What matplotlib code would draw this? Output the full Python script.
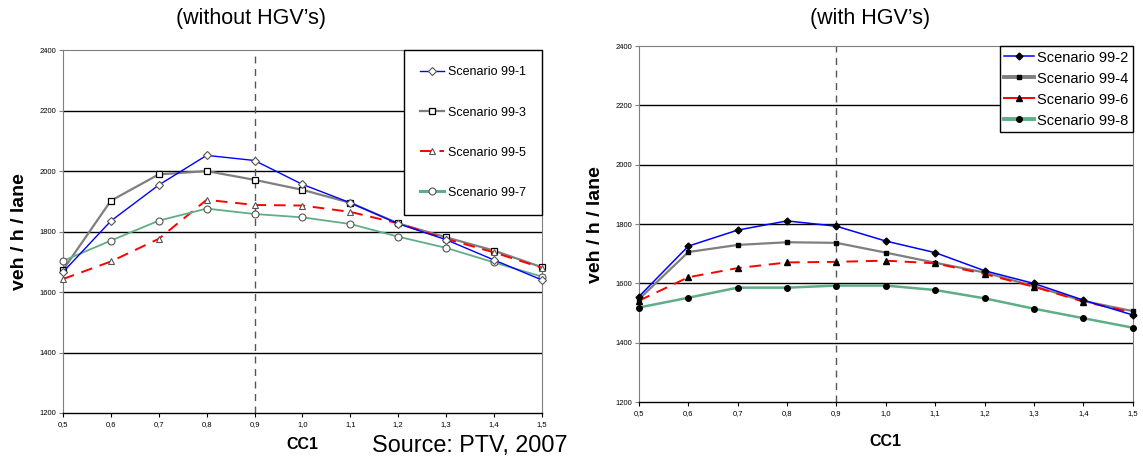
import numpy as np
import matplotlib
matplotlib.use("Agg")
from matplotlib import pyplot as plt

plt.rcParams['font.family'] = ['Liberation Sans', 'DejaVu Sans']

cc1 = [0.5, 0.6, 0.7, 0.8, 0.9, 1.0, 1.1, 1.2, 1.3, 1.4, 1.5]
cc1_labels = ["0,5", "0,6", "0,7", "0,8", "0,9", "1,0", "1,1", "1,2", "1,3", "1,4", "1,5"]
y_ticks = [1200, 1400, 1600, 1800, 2000, 2200, 2400]

# without HGV's
s99_1 = [1666, 1835, 1954, 2052, 2035, 1956, 1895, 1826, 1773, 1706, 1640]
s99_3 = [1673, 1902, 1989, 2000, 1971, 1938, 1895, 1827, 1781, 1737, 1682]
s99_5 = [1643, 1701, 1776, 1905, 1888, 1886, 1865, 1827, 1776, 1731, 1680]
s99_7 = [1703, 1770, 1836, 1876, 1858, 1847, 1825, 1783, 1746, 1698, 1651]

# with HGV's
s99_2 = [1556, 1726, 1780, 1811, 1793, 1743, 1704, 1643, 1600, 1544, 1494]
s99_4 = [1547, 1706, 1730, 1739, 1737, 1704, 1670, 1637, 1591, 1541, 1507]
s99_6 = [1542, 1621, 1652, 1671, 1673, 1677, 1668, 1632, 1589, 1539, 1502]
s99_8 = [1519, 1552, 1586, 1586, 1593, 1593, 1578, 1550, 1515, 1483, 1451]

GREEN = "#5fae86"
GRAY = "#7f7f7f"


def style_axes(ax, xpad):
    ax.set_xlim(0.5, 1.5)
    ax.set_ylim(1200, 2400)
    ax.set_xticks(cc1)
    ax.set_xticklabels(cc1_labels, fontsize=5.5)
    ax.set_yticks(y_ticks)
    ax.set_yticklabels([str(v) for v in y_ticks], fontsize=5.5)
    for v in y_ticks[1:-1]:
        ax.axhline(v, color="black", lw=1.0, zorder=1)
    ax.axvline(0.9, color="#555555", lw=1.0, ls=(0, (5, 4)), zorder=1)
    ax.spines["left"].set_color(GRAY)
    ax.spines["top"].set_color(GRAY)
    ax.spines["right"].set_color(GRAY)
    ax.spines["bottom"].set_color("black")
    ax.spines["bottom"].set_linewidth(1.0)
    ax.tick_params(axis="x", length=3, width=0.8, direction="out", pad=3)
    ax.tick_params(axis="y", length=3, width=0.8, direction="out", color=GRAY, pad=2)
    ax.set_xlabel("CC1", fontsize=11.5, fontweight="bold", labelpad=xpad)
    ax.set_ylabel("veh / h / lane", fontsize=14, fontweight="bold", labelpad=8)


fig = plt.figure(figsize=(11.43, 4.57), dpi=100)

ax1 = fig.add_axes([0.0551, 0.0963, 0.419, 0.794])
ax1.plot(cc1, s99_1, color="blue", lw=1.0, marker="D", ms=4, mfc="white", mec="#555555", mew=0.8,
         label="Scenario 99-1", zorder=4, clip_on=False)
ax1.plot(cc1, s99_3, color=GRAY, lw=1.6, marker="s", ms=5, mfc="white", mec="black", mew=0.9,
         label="Scenario 99-3", zorder=3, clip_on=False)
ax1.plot(cc1, s99_5, color="red", lw=1.4, ls=(0, (6, 4)), marker="^", ms=5, mfc="white", mec="#555555",
         mew=0.8, label="Scenario 99-5", zorder=3, clip_on=False)
ax1.plot(cc1, s99_7, color=GREEN, lw=1.3, marker="o", ms=5, mfc="white", mec="#555555", mew=0.8,
         label="Scenario 99-7", zorder=3, clip_on=False)
style_axes(ax1, 6)
leg1 = ax1.legend(loc="upper right", fontsize=9, labelspacing=2.25, borderpad=1.3, handlelength=1.9,
                  handletextpad=0.3, fancybox=False, framealpha=1, edgecolor="black",
                  bbox_to_anchor=(1.0, 1.0), borderaxespad=0)
leg1.get_frame().set_linewidth(1.0)
leg1.get_lines()[3].set_linewidth(2.2)

ax2 = fig.add_axes([0.559, 0.120, 0.432, 0.779])
ax2.plot(cc1, s99_2, color="blue", lw=1.1, marker="D", ms=3.5, mfc="black", mec="black",
         label="Scenario 99-2", zorder=4, clip_on=False)
ax2.plot(cc1, s99_4, color=GRAY, lw=1.6, marker="s", ms=3.2, mfc="black", mec="black",
         label="Scenario 99-4", zorder=3, clip_on=False)
ax2.plot(cc1, s99_6, color="red", lw=1.4, ls=(0, (6, 4)), marker="^", ms=4, mfc="black", mec="black",
         label="Scenario 99-6", zorder=3, clip_on=False)
ax2.plot(cc1, s99_8, color=GREEN, lw=1.8, marker="o", ms=4, mfc="black", mec="black",
         label="Scenario 99-8", zorder=3, clip_on=False)
style_axes(ax2, 12)
leg2 = ax2.legend(loc="upper right", fontsize=10.5, labelspacing=0.48, borderpad=0.3, handlelength=2.05,
                  handletextpad=0.2, fancybox=False, framealpha=1, edgecolor="black",
                  bbox_to_anchor=(1.0, 1.0), borderaxespad=0)
leg2.get_frame().set_linewidth(1.0)
leg2.get_lines()[1].set_linewidth(2.8)
leg2.get_lines()[2].set_linestyle("-")
leg2.get_lines()[3].set_linewidth(2.8)

fig.text(0.2195, 0.96, "(without HGV\u2019s)", fontsize=15.5, ha="center", va="center")
fig.text(0.7615, 0.96, "(with HGV\u2019s)", fontsize=15.5, ha="center", va="center")
fig.text(0.411, 0.025, "Source: PTV, 2007", fontsize=16.8, ha="center", va="center")

fig.savefig("out.png", dpi=100)
